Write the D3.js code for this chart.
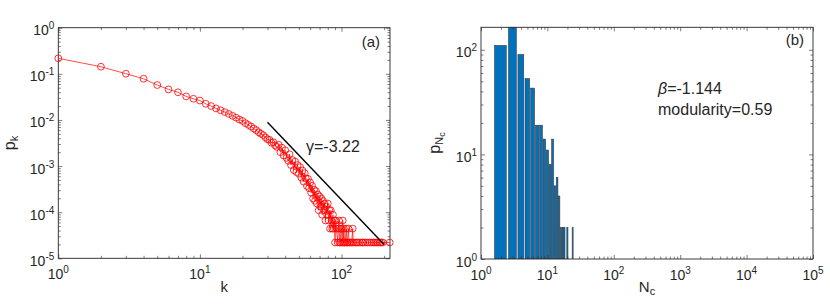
<!DOCTYPE html>
<html>
<head>
<meta charset="utf-8">
<script src="https://cdn.jsdelivr.net/npm/d3@7"></script>
<style>
body { margin: 0; background: #fff; }
text { font-family: "Liberation Sans", Arial, sans-serif; fill: #262626; }
</style>
</head>
<body>
<script>
// (a) degree distribution p_k
var degreeK = [1, 2, 3, 4, 5, 6, 7, 8, 9, 10, 11, 12, 13, 14, 15, 16, 17, 18, 19, 20,
    21, 22, 23, 24, 25, 26, 27, 28, 29, 30, 31, 32, 33, 34, 35, 36, 37, 38, 39, 40,
    41, 42, 43, 44, 45, 46, 47, 48, 49, 50, 51, 52, 53, 54, 55, 56, 57, 58, 59, 60,
    61, 62, 63, 64, 65, 66, 67, 68, 69, 70, 71, 72, 73, 74, 75, 76, 77, 78, 79, 80,
    81, 82, 83, 84, 85, 86, 87, 88, 89, 90, 91, 92, 94, 95, 96, 97, 98, 99, 100, 101,
    102, 103, 104, 105, 106, 108, 109, 110, 112, 113, 115, 118, 120, 121, 125, 128, 131, 135, 140, 142,
    147, 152, 158, 163, 168, 172, 177, 181, 186, 191, 196, 219];
var degreeP = [0.217, 0.1426, 0.1005, 0.0783, 0.0571, 0.046, 0.0398, 0.0324, 0.0288, 0.0263,
    0.0224, 0.02, 0.0178, 0.0162, 0.0148, 0.0135, 0.0123, 0.0112, 0.0102, 0.0095,
    0.0085, 0.0078, 0.0072, 0.0065, 0.006, 0.0054, 0.005, 0.0047, 0.0042, 0.0038,
    3.7e-3, 3.2e-3, 3.3e-3, 2.8e-3, 2.6e-3, 2.9e-3, 2.0e-3, 2.5e-3, 1.7e-3, 2.2e-3,
    1.5e-3, 1.3e-3, 1.8e-3, 1.05e-3, 1.35e-3, 8.2e-4, 1.25e-3, 7.4e-4, 1.05e-3, 6.8e-4,
    9.5e-4, 5.6e-4, 8.0e-4, 4.6e-4, 7.0e-4, 5.4e-4, 3.7e-4, 5.3e-4, 3.3e-4, 4.4e-4,
    2.64e-4, 3.74e-4, 1.98e-4, 3.08e-4, 1.76e-4, 2.86e-4, 1.54e-4, 2.42e-4, 1.1e-4, 2.2e-4,
    1.32e-4, 1.98e-4, 8.8e-5, 1.76e-4, 1.1e-4, 1.54e-4, 6.6e-5, 1.32e-4, 8.8e-5, 1.54e-4,
    6.6e-5, 1.1e-4, 4.4e-5, 1.1e-4, 6.6e-5, 4.4e-5, 8.8e-5, 4.4e-5, 6.6e-5, 2.2e-5,
    6.6e-5, 4.4e-5, 2.2e-5, 4.4e-5, 6.6e-5, 2.2e-5, 2.2e-5, 4.4e-5, 4.4e-5, 2.2e-5,
    6.6e-5, 2.2e-5, 4.4e-5, 2.2e-5, 2.2e-5, 4.4e-5, 2.2e-5, 2.2e-5, 4.4e-5, 2.2e-5,
    2.2e-5, 2.2e-5, 4.4e-5, 2.2e-5, 2.2e-5, 2.2e-5, 2.2e-5, 2.2e-5, 2.2e-5, 2.2e-5,
    2.2e-5, 2.2e-5, 2.2e-5, 2.2e-5, 2.2e-5, 2.2e-5, 2.2e-5, 2.2e-5, 2.2e-5, 2.2e-5,
    2.2e-5, 2.2e-5];
// power-law guide line, gamma = -3.22
var fitK = [30, 200];
var fitP = [8.9e-3, 2.0e-5];

// (b) community size distribution
var commSize = [2, 3, 4, 5, 6, 7, 8, 9, 10, 11, 12, 13, 14, 15, 16, 17, 18, 20, 24];
var commCount = [110, 164, 90, 53, 43, 19, 19, 14, 11, 8, 14, 5, 6, 4, 2, 2, 2, 2, 2];

var xTicksA = [1, 10, 100];
var yTicksA = [1e-5, 1e-4, 1e-3, 1e-2, 1e-1, 1];
var xTicksB = [1, 10, 100, 1e3, 1e4, 1e5];
var yTicksB = [1, 10, 100];

var width = 830, height = 305;

var svg = d3.select("body").append("svg")
    .attr("width", width)
    .attr("height", height);

//scales for both panels
var xA = d3.scaleLog().domain([1, 220]).range([58.3, 390]);
var yA = d3.scaleLog().domain([1e-5, 1]).range([258.3, 27.7]);
var xB = d3.scaleLog().domain([1, 1e5]).range([481, 813]);
var yB = d3.scaleLog().domain([1, 164]).range([259, 27.3]);

//draw the box, inward ticks on all sides and power-of-ten labels
function drawFrame(x, y, xTicks, yTicks) {
    var g = svg.append("g");
    var x0 = x.range()[0], x1 = x.range()[1],
        y0 = y.range()[0], y1 = y.range()[1];

    var xMinor = x.ticks().filter(function(v) { return xTicks.indexOf(v) < 0; });
    var yMinor = y.ticks().filter(function(v) { return yTicks.indexOf(v) < 0; });

    function tickGroup(axis, tx, ty) {
        var a = g.append("g")
            .attr("transform", "translate(" + tx + "," + ty + ")")
            .call(axis);
        a.select(".domain").remove();
        a.selectAll("line").attr("stroke", "#262626").attr("stroke-width", 0.6);
        a.selectAll("text").remove();
    }
    [[xTicks, 4], [xMinor, 2.5]].forEach(function(t) {
        tickGroup(d3.axisBottom(x).tickValues(t[0]).tickSize(-t[1]), 0, y0);
        tickGroup(d3.axisTop(x).tickValues(t[0]).tickSize(-t[1]), 0, y1);
    });
    [[yTicks, 4], [yMinor, 2.5]].forEach(function(t) {
        tickGroup(d3.axisLeft(y).tickValues(t[0]).tickSize(-t[1]), x0, 0);
        tickGroup(d3.axisRight(y).tickValues(t[0]).tickSize(-t[1]), x1, 0);
    });

    g.append("rect")
        .attr("x", x0).attr("y", y1)
        .attr("width", x1 - x0).attr("height", y0 - y1)
        .attr("fill", "none")
        .attr("stroke", "#262626")
        .attr("stroke-width", 0.9);

    function powLabel(sel) {
        sel.append("tspan").text("10");
        sel.append("tspan")
            .attr("dy", -6)
            .attr("font-size", 10)
            .text(function(d) { return Math.round(Math.log10(d)); });
    }

    g.selectAll(".xlab")
        .data(xTicks)
        .enter()
        .append("text")
        .attr("class", "xlab")
        .attr("x", function(d) { return x(d); })
        .attr("y", y0 + 21)
        .attr("text-anchor", "middle")
        .attr("font-size", 14)
        .call(powLabel);

    g.selectAll(".ylab")
        .data(yTicks)
        .enter()
        .append("text")
        .attr("class", "ylab")
        .attr("x", x0 - 4)
        .attr("y", function(d) { return y(d) + 7.5; })
        .attr("text-anchor", "end")
        .attr("font-size", 14)
        .call(powLabel);
    return g;
}

//panel (a)
drawFrame(xA, yA, xTicksA, yTicksA);

var degLine = d3.line()
    .x(function(d, i) { return xA(degreeK[i]); })
    .y(function(d) { return yA(d); });

svg.append("path")
    .datum(degreeP)
    .attr("d", degLine)
    .attr("fill", "none")
    .attr("stroke", "#ff0000")
    .attr("stroke-width", 0.7);

svg.selectAll(".deg")
    .data(degreeP)
    .enter()
    .append("circle")
    .attr("class", "deg")
    .attr("cx", function(d, i) { return xA(degreeK[i]); })
    .attr("cy", function(d) { return yA(d); })
    .attr("r", 3.4)
    .attr("fill", "none")
    .attr("stroke", "#ff0000")
    .attr("stroke-width", 0.8);

svg.append("line")
    .attr("x1", xA(fitK[0])).attr("y1", yA(fitP[0]))
    .attr("x2", xA(fitK[1])).attr("y2", yA(fitP[1]))
    .attr("stroke", "#000")
    .attr("stroke-width", 1.4);

svg.append("text")
    .attr("x", 306).attr("y", 152)
    .attr("font-size", 16)
    .text("\u03b3=-3.22");

svg.append("text")
    .attr("x", 380).attr("y", 47)
    .attr("text-anchor", "end")
    .attr("font-size", 15)
    .text("(a)");

svg.append("text")
    .attr("x", (xA.range()[0] + xA.range()[1]) / 2)
    .attr("y", 292)
    .attr("text-anchor", "middle")
    .attr("font-size", 15)
    .text("k");

var pkLab = svg.append("text")
    .attr("transform", "translate(15,143) rotate(-90)")
    .attr("text-anchor", "middle")
    .attr("font-size", 16);
pkLab.append("tspan").text("p");
pkLab.append("tspan").attr("dy", 3).attr("font-size", 11).text("k");

//panel (b)
svg.append("clipPath")
    .attr("id", "clipB")
    .append("rect")
    .attr("x", xB.range()[0]).attr("y", yB.range()[1])
    .attr("width", xB.range()[1] - xB.range()[0])
    .attr("height", yB.range()[0] - yB.range()[1]);

svg.append("g")
    .attr("clip-path", "url(#clipB)")
    .selectAll(".bar")
    .data(commCount)
    .enter()
    .append("rect")
    .attr("class", "bar")
    .attr("x", function(d, i) { return xB(commSize[i] - 0.4); })
    .attr("width", function(d, i) { return xB(commSize[i] + 0.4) - xB(commSize[i] - 0.4); })
    .attr("y", function(d) { return yB(d); })
    .attr("height", function(d) { return yB(1) - yB(d); })
    .attr("fill", "#0072bd")
    .attr("stroke", "#3a3a3a")
    .attr("stroke-width", 0.6);

drawFrame(xB, yB, xTicksB, yTicksB);

var betaLab = svg.append("text")
    .attr("x", 658).attr("y", 94)
    .attr("font-size", 16);
betaLab.append("tspan").attr("font-style", "italic").text("\u03b2");
betaLab.append("tspan").text("=-1.144");

svg.append("text")
    .attr("x", 658).attr("y", 115)
    .attr("font-size", 16)
    .text("modularity=0.59");

svg.append("text")
    .attr("x", 804).attr("y", 45)
    .attr("text-anchor", "end")
    .attr("font-size", 15)
    .text("(b)");

var ncLab = svg.append("text")
    .attr("x", (xB.range()[0] + xB.range()[1]) / 2)
    .attr("y", 292)
    .attr("text-anchor", "middle")
    .attr("font-size", 15);
ncLab.append("tspan").text("N");
ncLab.append("tspan").attr("dy", 3).attr("font-size", 11).text("c");

var pncLab = svg.append("text")
    .attr("transform", "translate(440,143) rotate(-90)")
    .attr("text-anchor", "middle")
    .attr("font-size", 16);
pncLab.append("tspan").text("p");
pncLab.append("tspan").attr("dy", 3).attr("font-size", 11).text("N");
pncLab.append("tspan").attr("dy", 2).attr("font-size", 9).text("c");
</script>
</body>
</html>
